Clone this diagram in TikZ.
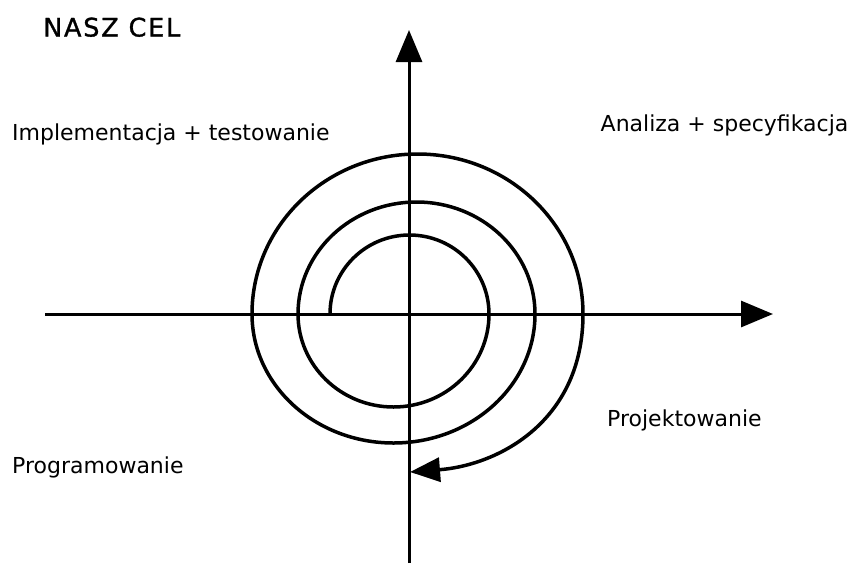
\documentclass[tikz,border=0pt]{standalone}
\usepackage{fontspec}
\usetikzlibrary{arrows.meta}
\newfontfamily\lblfont{DejaVu Sans}
\newfontfamily\titlefont[LetterSpace=7,FakeBold=1.2]{DejaVu Sans}
\begin{document}
\begin{tikzpicture}[x=1pt,y=-1pt,
  lbl/.style={anchor=base west,inner sep=0pt,font=\lblfont\fontsize{22}{26}\selectfont},
  ttl/.style={anchor=base west,inner sep=0pt,font=\titlefont\fontsize{25.5}{30}\selectfont},
  axis/.style={line width=3pt,-{Triangle[length=32pt,width=26pt]}},
  spiral/.style={line width=3.5pt}]
\useasboundingbox (0,0) rectangle (856,563);
% axes
\coordinate (xs) at (45,314);
\coordinate (xe) at (773,314);
\coordinate (ys) at (409,563);
\coordinate (ye) at (409,30);
\draw[axis] (xs) -- (xe);
\draw[axis] (ys) -- (ye);
% spiral
\coordinate (s0) at (330,314);
\coordinate (tip) at (410,472);
\draw[spiral] (s0)
  arc[start angle=180,end angle=360,x radius=79.5,y radius=79]
  arc[start angle=0,end angle=180,x radius=95.5,y radius=93]
  arc[start angle=180,end angle=360,x radius=118.5,y radius=112]
  arc[start angle=0,end angle=180,x radius=141.5,y radius=129]
  arc[start angle=180,end angle=360,x radius=165.5,y radius=160]
  coordinate (s5);
\draw[spiral,-{Triangle[length=30pt,width=24pt]}] (s5) .. controls (583,420) and (500,465) .. (tip);
% labels
\node[ttl] (title) at (43,36.5) {NASZ CEL};
\node[lbl] (impl) at (12,140) {Implementacja + testowanie};
\node[lbl] (anal) at (600.5,131.5) {Analiza + specyfikacja};
\node[lbl] (proj) at (607,426.5) {Projektowanie};
\node[lbl] (prog) at (12,473) {Programowanie};
\end{tikzpicture}
\end{document}
